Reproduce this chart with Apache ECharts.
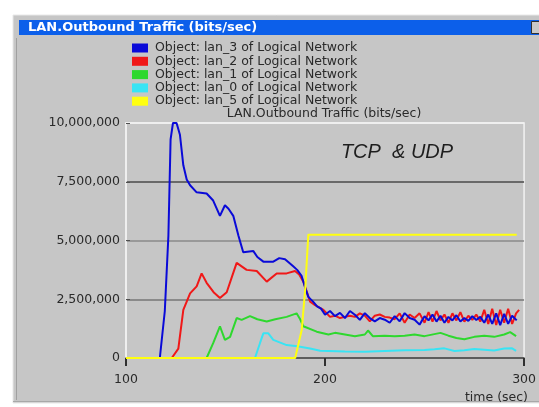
<!DOCTYPE html>
<html>
<head>
<meta charset="utf-8">
<script src="https://cdn.jsdelivr.net/npm/echarts@6/dist/echarts.min.js"></script>
<style>
  html, body { margin: 0; padding: 0; background: #ffffff; }
  #chart1 { width: 539px; height: 407px; }
</style>
</head>
<body>
<div id="chart1"></div>
<script>
// series names (legend order)
var seriesNames = [
    'Object: lan_3 of Logical Network',
    'Object: lan_2 of Logical Network',
    'Object: lan_1 of Logical Network',
    'Object: lan_0 of Logical Network',
    'Object: lan_5 of Logical Network'
];
var seriesColors = ['#0a0ad8', '#f01818', '#2ed82e', '#38e4f4', '#ffff10'];

// x axis ticks (time, sec) and y axis ticks (bits/sec)
var xTicks = [100, 200, 300];
var yTicks = [0, 2500000, 5000000, 7500000, 10000000];

// [time (sec), traffic (Mbits/sec)]
var lan3 = [
    [100, 0], [117, 0], [119.5, 2.0], [121.3, 5.2], [122.4, 9.3], [123.6, 10.0], [125.4, 10.0],
    [127.1, 9.5], [128.8, 8.2], [130.5, 7.6], [132.2, 7.35], [135.5, 7.05], [140.5, 7.0],
    [143.8, 6.7], [147.2, 6.05], [149.7, 6.5], [151.5, 6.35], [153.9, 6.05], [156.5, 5.2],
    [158.9, 4.5], [164, 4.55], [166, 4.3], [169, 4.1], [174, 4.1], [177, 4.25], [179.9, 4.2],
    [184, 3.9], [186, 3.75], [188.2, 3.5], [190, 3.0], [191.6, 2.6], [194, 2.4], [196, 2.2],
    [198, 2.1], [200, 1.84], [202.5, 2.0], [205, 1.78], [207.5, 1.92], [210, 1.7], [212.5, 2.0],
    [215, 1.84], [217.5, 1.62], [220, 1.91], [222.5, 1.7], [225, 1.56], [227.5, 1.7], [230, 1.63],
    [232.5, 1.5], [235, 1.78], [237.5, 1.56], [240, 1.91], [242.5, 1.7], [245, 1.63], [247.5, 1.42],
    [250, 1.78], [252, 1.6], [254, 1.85], [256, 1.55], [258, 1.8], [260, 1.5], [262, 1.75],
    [264, 1.6], [266, 1.82], [268, 1.55], [270, 1.7], [272, 1.58], [274, 1.78], [276, 1.62],
    [278, 1.75], [280, 1.5], [282, 1.85], [284, 1.45], [286, 1.9], [288, 1.4], [290, 1.88],
    [292, 1.45], [294, 1.8], [296.3, 1.6]
];
var lan2 = [
    [100, 0], [123, 0], [126.3, 0.4], [128.8, 2.05], [132.2, 2.75], [135.5, 3.05], [138, 3.6],
    [140.5, 3.2], [144, 2.8], [147.2, 2.55], [150.6, 2.8], [153, 3.4], [155.6, 4.05], [160.6, 3.75],
    [165.7, 3.7], [170.7, 3.25], [175.7, 3.6], [180.7, 3.6], [184.9, 3.7], [187, 3.55], [189.1, 3.25],
    [192.5, 2.4], [195, 2.25], [199.2, 2.05], [202.5, 1.75], [205, 1.8], [207.5, 1.7], [210, 1.75],
    [212.5, 1.8], [215, 1.75], [217.5, 1.9], [220, 1.8], [222.5, 1.56], [225, 1.8], [227.5, 1.85],
    [230, 1.75], [232.5, 1.72], [235, 1.65], [237.5, 1.9], [240, 1.5], [242.5, 1.85], [245, 1.7],
    [247.5, 1.9], [250, 1.5], [252, 1.95], [254, 1.55], [256, 2.0], [258, 1.6], [260, 1.85],
    [262, 1.5], [264, 1.9], [266, 1.6], [268, 1.95], [270, 1.55], [272, 1.8], [274, 1.62],
    [276, 1.85], [278, 1.55], [280, 2.05], [282, 1.45], [284, 2.1], [286, 1.4], [288, 2.05],
    [290, 1.5], [292, 2.1], [294, 1.45], [296, 1.9], [297.5, 2.05]
];
var lan1 = [
    [100, 0], [140.5, 0], [143.8, 0.63], [147.2, 1.35], [149.7, 0.77], [152.3, 0.9], [155.6, 1.7],
    [158.1, 1.62], [162.3, 1.78], [166, 1.65], [170.7, 1.55], [175, 1.65], [180.7, 1.75],
    [185.7, 1.9], [187.5, 1.65], [189.1, 1.35], [195.8, 1.12], [201.7, 1.0], [205, 1.07],
    [210, 1.0], [215, 0.93], [220, 1.0], [221.6, 1.17], [224, 0.93], [230, 0.95], [235, 0.93],
    [240, 0.95], [245, 1.0], [250, 0.93], [258, 1.07], [262, 0.95], [266, 0.85], [270, 0.8],
    [275, 0.9], [280, 0.95], [285, 0.9], [290, 1.0], [293, 1.1], [296, 0.93]
];
var lan0 = [
    [100, 0], [164.8, 0], [167.3, 0.63], [169, 1.05], [171.5, 1.05], [174, 0.77], [180.7, 0.55],
    [186, 0.5], [192.5, 0.4], [197.5, 0.31], [201.7, 0.3], [210, 0.28], [220, 0.27], [230, 0.3],
    [240, 0.33], [250, 0.34], [255, 0.37], [260, 0.41], [265, 0.3], [270, 0.33], [275, 0.38],
    [280, 0.35], [285, 0.32], [290, 0.4], [294, 0.41], [296, 0.3]
];
var lan5 = [
    [100, 0], [185, 0], [188.3, 1.2], [190, 2.9], [191.6, 5.25], [296.3, 5.25]
];

var seriesData = [lan3, lan2, lan1, lan0, lan5];
var seriesZ = [5, 4, 3, 2, 6];

var FONT = 'DejaVu Sans';

function toBits(arr) {
    var out = [];
    for (var i = 0; i < arr.length; i++) {
        out.push([arr[i][0], arr[i][1] * 1000000]);
    }
    return out;
}

function fmtNum(v) {
    return String(Math.round(v)).replace(/\B(?=(\d{3})+(?!\d))/g, ',');
}

var chart = echarts.init(document.getElementById('chart1'));

var series = [];
for (var i = 0; i < seriesNames.length; i++) {
    series.push({
        name: seriesNames[i],
        type: 'line',
        data: toBits(seriesData[i]),
        showSymbol: false,
        symbol: 'none',
        z: seriesZ[i],
        itemStyle: { color: seriesColors[i] },
        lineStyle: { color: seriesColors[i], width: 2 }
    });
}

var option = {
    animation: false,
    backgroundColor: '#ffffff',
    textStyle: { fontFamily: FONT },
    graphic: [
        // window body
        { type: 'rect', z: -10, shape: { x: 13, y: 15, width: 530, height: 388 },
          style: { fill: '#c6c6c6', stroke: '#e8e8e8', lineWidth: 1 } },
        { type: 'line', z: -9, shape: { x1: 16.5, y1: 38, x2: 16.5, y2: 400 },
          style: { stroke: '#a0a0a0', lineWidth: 1 } },
        { type: 'line', z: -9, shape: { x1: 13, y1: 401.5, x2: 539, y2: 401.5 },
          style: { stroke: '#a8a8a8', lineWidth: 1 } },
        // title bar
        { type: 'rect', z: -8, shape: { x: 19, y: 20, width: 520, height: 15 },
          style: { fill: '#0c5fea' } },
        { type: 'rect', z: -7, shape: { x: 531.5, y: 21.5, width: 10, height: 12 },
          style: { fill: '#c8c8c8', stroke: '#303030', lineWidth: 1 } },
        { type: 'text', z: 10, x: 28, y: 28,
          style: { text: 'LAN.Outbound Traffic (bits/sec)', fill: '#ffffff',
                   font: 'bold 13px "' + FONT + '"', textVerticalAlign: 'middle' } },
        // chart subtitle
        { type: 'text', z: 10, x: 324, y: 114,
          style: { text: 'LAN.Outbound Traffic (bits/sec)', fill: '#2a2a2a',
                   font: '12.5px "' + FONT + '"', textAlign: 'center', textVerticalAlign: 'middle' } },
        // annotation
        { type: 'text', z: 10, x: 397, y: 152,
          style: { text: 'TCP  & UDP', fill: '#1e1e1e',
                   font: 'italic 20px "Liberation Sans"', textAlign: 'center', textVerticalAlign: 'middle' } },
        // x axis name
        { type: 'text', z: 10, x: 528, y: 398,
          style: { text: 'time (sec)', fill: '#2a2a2a',
                   font: '12.5px "' + FONT + '"', textAlign: 'right', textVerticalAlign: 'middle' } }
    ],
    legend: {
        orient: 'vertical',
        left: 132,
        top: 41.5,
        padding: 0,
        itemWidth: 16,
        itemHeight: 9,
        itemGap: 0.3,
        icon: 'rect',
        data: seriesNames,
        textStyle: { fontFamily: FONT, fontSize: 12.5, lineHeight: 13, color: '#2a2a2a', padding: [0, 0, 0, 2] }
    },
    grid: {
        left: 126,
        right: 14,
        top: 123,
        bottom: 49,
        show: true,
        backgroundColor: 'transparent',
        borderColor: '#f2f2f2',
        borderWidth: 1.5
    },
    xAxis: {
        type: 'value',
        min: xTicks[0],
        max: xTicks[xTicks.length - 1],
        interval: 100,
        axisLine: { show: true, lineStyle: { color: '#505050', width: 1.5 } },
        axisTick: { show: true, inside: false, length: 8, lineStyle: { color: '#303030', width: 2 } },
        axisLabel: { color: '#2a2a2a', fontSize: 12.5, fontFamily: FONT, margin: 15 },
        splitLine: { show: false }
    },
    yAxis: {
        type: 'value',
        min: yTicks[0],
        max: yTicks[yTicks.length - 1],
        interval: 2500000,
        axisLine: { show: true, lineStyle: { color: '#f2f2f2', width: 1.5 } },
        axisTick: { show: true, inside: true, length: 4, lineStyle: { color: '#505050' } },
        axisLabel: { color: '#2a2a2a', fontSize: 12.5, fontFamily: FONT, margin: 6,
                     formatter: function (v) { return fmtNum(v); } },
        splitLine: { show: true, lineStyle: { color: ['#606060', '#767676', '#8a8a8a', '#4a4a4a', '#f2f2f2'], width: 1.5 } }
    },
    series: series
};

chart.setOption(option, true);
</script>
</body>
</html>
